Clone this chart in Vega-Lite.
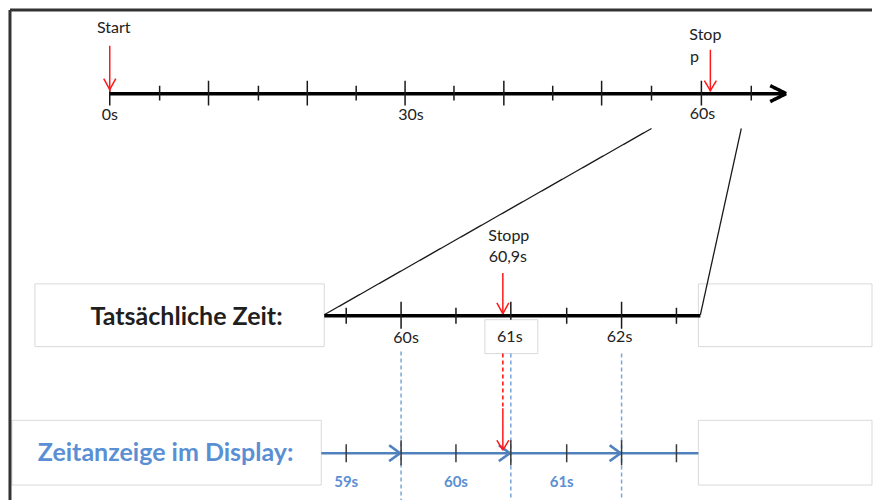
{
  "$schema": "https://vega.github.io/schema/vega-lite/v6.json",
  "width": 874,
  "height": 502,
  "autosize": {"type": "fit", "contains": "padding"},
  "padding": 0,
  "background": "white",
  "config": {"view": {"stroke": null}},
  "datasets": {
    "boxes": [
      {"x": 35, "y": 285, "x2": 325, "y2": 348},
      {"x": 700, "y": 285, "x2": 874, "y2": 348},
      {"x": 12, "y": 422, "x2": 322, "y2": 487},
      {"x": 700, "y": 422, "x2": 874, "y2": 487},
      {"x": 486, "y": 321, "x2": 539, "y2": 355}
    ],
    "lines": [
      {"x": 10, "y": 10, "x2": 874, "y2": 10, "kind": "frame"},
      {"x": 10, "y": 10, "x2": 10, "y2": 502, "kind": "frame"},
      {"x": 110, "y": 94, "x2": 786, "y2": 94, "kind": "axis"},
      {"x": 772, "y": 86, "x2": 788, "y2": 94, "kind": "axis"},
      {"x": 772, "y": 102, "x2": 788, "y2": 94, "kind": "axis"},
      {"x": 110, "y": 90, "x2": 110, "y2": 106, "kind": "tick"},
      {"x": 209, "y": 81, "x2": 209, "y2": 106, "kind": "tick"},
      {"x": 308, "y": 81, "x2": 308, "y2": 106, "kind": "tick"},
      {"x": 406, "y": 81, "x2": 406, "y2": 106, "kind": "tick"},
      {"x": 505, "y": 81, "x2": 505, "y2": 106, "kind": "tick"},
      {"x": 603, "y": 81, "x2": 603, "y2": 106, "kind": "tick"},
      {"x": 703, "y": 81, "x2": 703, "y2": 106, "kind": "tick"},
      {"x": 160, "y": 86, "x2": 160, "y2": 101, "kind": "tick"},
      {"x": 259, "y": 86, "x2": 259, "y2": 101, "kind": "tick"},
      {"x": 357, "y": 86, "x2": 357, "y2": 101, "kind": "tick"},
      {"x": 455, "y": 86, "x2": 455, "y2": 101, "kind": "tick"},
      {"x": 554, "y": 86, "x2": 554, "y2": 101, "kind": "tick"},
      {"x": 653, "y": 86, "x2": 653, "y2": 101, "kind": "tick"},
      {"x": 753, "y": 86, "x2": 753, "y2": 101, "kind": "tick"},
      {"x": 110, "y": 46, "x2": 110, "y2": 92, "kind": "red"},
      {"x": 104, "y": 79, "x2": 110, "y2": 90, "kind": "red"},
      {"x": 116, "y": 79, "x2": 110, "y2": 90, "kind": "red"},
      {"x": 712, "y": 50, "x2": 712, "y2": 92, "kind": "red"},
      {"x": 706, "y": 81, "x2": 712, "y2": 91, "kind": "red"},
      {"x": 718, "y": 81, "x2": 712, "y2": 91, "kind": "red"},
      {"x": 653, "y": 129, "x2": 325, "y2": 316, "kind": "zoom"},
      {"x": 743, "y": 129, "x2": 702, "y2": 316, "kind": "zoom"},
      {"x": 325, "y": 317, "x2": 702, "y2": 317, "kind": "axis"},
      {"x": 402, "y": 303, "x2": 402, "y2": 330, "kind": "tick"},
      {"x": 512, "y": 303, "x2": 512, "y2": 321, "kind": "tick"},
      {"x": 623, "y": 303, "x2": 623, "y2": 330, "kind": "tick"},
      {"x": 347, "y": 309, "x2": 347, "y2": 325, "kind": "tick"},
      {"x": 457, "y": 309, "x2": 457, "y2": 325, "kind": "tick"},
      {"x": 568, "y": 309, "x2": 568, "y2": 325, "kind": "tick"},
      {"x": 678, "y": 309, "x2": 678, "y2": 325, "kind": "tick"},
      {"x": 504, "y": 274, "x2": 504, "y2": 315, "kind": "red"},
      {"x": 498, "y": 304, "x2": 504, "y2": 315, "kind": "red"},
      {"x": 510, "y": 304, "x2": 504, "y2": 315, "kind": "red"},
      {"x": 402, "y": 353, "x2": 402, "y2": 502, "kind": "bluedash"},
      {"x": 512, "y": 355, "x2": 512, "y2": 502, "kind": "bluedash"},
      {"x": 623, "y": 355, "x2": 623, "y2": 502, "kind": "bluedash"},
      {"x": 504, "y": 355, "x2": 504, "y2": 410, "kind": "reddash"},
      {"x": 322, "y": 455, "x2": 700, "y2": 455, "kind": "blue"},
      {"x": 390, "y": 447, "x2": 401, "y2": 455, "kind": "blue"},
      {"x": 390, "y": 463, "x2": 401, "y2": 455, "kind": "blue"},
      {"x": 500, "y": 447, "x2": 511, "y2": 455, "kind": "blue"},
      {"x": 500, "y": 463, "x2": 511, "y2": 455, "kind": "blue"},
      {"x": 611, "y": 447, "x2": 622, "y2": 455, "kind": "blue"},
      {"x": 611, "y": 463, "x2": 622, "y2": 455, "kind": "blue"},
      {"x": 402, "y": 442, "x2": 402, "y2": 467, "kind": "bluetick"},
      {"x": 512, "y": 442, "x2": 512, "y2": 467, "kind": "bluetick"},
      {"x": 623, "y": 442, "x2": 623, "y2": 467, "kind": "bluetick"},
      {"x": 347, "y": 446, "x2": 347, "y2": 464, "kind": "bluetick"},
      {"x": 457, "y": 446, "x2": 457, "y2": 464, "kind": "bluetick"},
      {"x": 568, "y": 446, "x2": 568, "y2": 464, "kind": "bluetick"},
      {"x": 678, "y": 446, "x2": 678, "y2": 464, "kind": "bluetick"},
      {"x": 504, "y": 410, "x2": 504, "y2": 452, "kind": "red"},
      {"x": 498, "y": 442, "x2": 504, "y2": 452, "kind": "red"},
      {"x": 510, "y": 442, "x2": 504, "y2": 452, "kind": "red"}
    ],
    "labels": [
      {"x": 114, "y": 33, "text": "Start", "kind": "plain"},
      {"x": 110, "y": 120, "text": "0s", "kind": "plain"},
      {"x": 412, "y": 120, "text": "30s", "kind": "plain"},
      {"x": 704, "y": 119, "text": "60s", "kind": "plain"},
      {"x": 707, "y": 40, "text": "Stop", "kind": "plain"},
      {"x": 696, "y": 62, "text": "p", "kind": "plain"},
      {"x": 510, "y": 242, "text": "Stopp", "kind": "plain"},
      {"x": 509, "y": 263, "text": "60,9s", "kind": "plain"},
      {"x": 407, "y": 344, "text": "60s", "kind": "plain"},
      {"x": 511, "y": 343, "text": "61s", "kind": "plain"},
      {"x": 621, "y": 343, "text": "62s", "kind": "plain"},
      {"x": 187, "y": 326, "text": "Tatsächliche Zeit:", "kind": "title"},
      {"x": 166, "y": 463, "text": "Zeitanzeige im Display:", "kind": "titleBlue"},
      {"x": 347, "y": 489, "text": "59s", "kind": "blueSmall"},
      {"x": 457, "y": 489, "text": "60s", "kind": "blueSmall"},
      {"x": 563, "y": 489, "text": "61s", "kind": "blueSmall"}
    ]
  },
  "encoding": {
    "x": {"field": "x", "type": "quantitative", "axis": null, "scale": {"domain": [0, 874], "nice": false, "zero": false}},
    "y": {"field": "y", "type": "quantitative", "axis": null, "scale": {"domain": [0, 502], "nice": false, "zero": false, "reverse": true}}
  },
  "layer": [
    {
      "data": {"name": "boxes"},
      "mark": {"type": "rect", "fill": "white", "stroke": "#d9d9d9", "strokeWidth": 1},
      "encoding": {
        "x2": {"field": "x2"},
        "y2": {"field": "y2"}
      }
    },
    {
      "data": {"name": "lines"},
      "mark": {"type": "rule", "strokeCap": "butt"},
      "encoding": {
        "x2": {"field": "x2"},
        "y2": {"field": "y2"},
        "color": {"field": "kind", "type": "nominal", "legend": null,
          "scale": {"type": "ordinal", "domain": ["frame", "axis", "tick", "zoom", "red", "reddash", "blue", "bluetick", "bluedash"],
                    "range": ["#333333", "#000000", "#1a1a1a", "#1a1a1a", "#ff1a1a", "#ff1a1a", "#4f81bd", "#3a3a3a", "#7aa6dc"]}},
        "strokeWidth": {"field": "kind", "type": "nominal", "legend": null,
          "scale": {"type": "ordinal", "domain": ["frame", "axis", "tick", "zoom", "red", "reddash", "blue", "bluetick", "bluedash"],
                    "range": [3, 3.5, 1.5, 1.3, 1.5, 1.6, 2.6, 1.5, 1.5]}},
        "strokeDash": {"field": "kind", "type": "nominal", "legend": null,
          "scale": {"type": "ordinal", "domain": ["frame", "axis", "tick", "zoom", "red", "reddash", "blue", "bluetick", "bluedash"],
                    "range": [[1, 0], [1, 0], [1, 0], [1, 0], [1, 0], [4, 3], [1, 0], [1, 0], [4, 3]]}}
      }
    },
    {
      "data": {"name": "labels"},
      "transform": [{"filter": "datum.kind === 'plain'"}],
      "mark": {"type": "text", "font": "Lato", "fontSize": 16, "color": "#222222", "align": "center", "baseline": "alphabetic"},
      "encoding": {"text": {"field": "text"}}
    },
    {
      "data": {"name": "labels"},
      "transform": [{"filter": "datum.kind === 'title'"}],
      "mark": {"type": "text", "font": "Lato", "fontSize": 25, "fontWeight": "bold", "color": "#1f1f1f", "align": "center", "baseline": "alphabetic"},
      "encoding": {"text": {"field": "text"}}
    },
    {
      "data": {"name": "labels"},
      "transform": [{"filter": "datum.kind === 'titleBlue'"}],
      "mark": {"type": "text", "font": "Lato", "fontSize": 25, "fontWeight": "bold", "color": "#5b8fd4", "align": "center", "baseline": "alphabetic"},
      "encoding": {"text": {"field": "text"}}
    },
    {
      "data": {"name": "labels"},
      "transform": [{"filter": "datum.kind === 'blueSmall'"}],
      "mark": {"type": "text", "font": "Lato", "fontSize": 15, "fontWeight": "bold", "color": "#5b8fd4", "align": "center", "baseline": "alphabetic"},
      "encoding": {"text": {"field": "text"}}
    }
  ]
}
